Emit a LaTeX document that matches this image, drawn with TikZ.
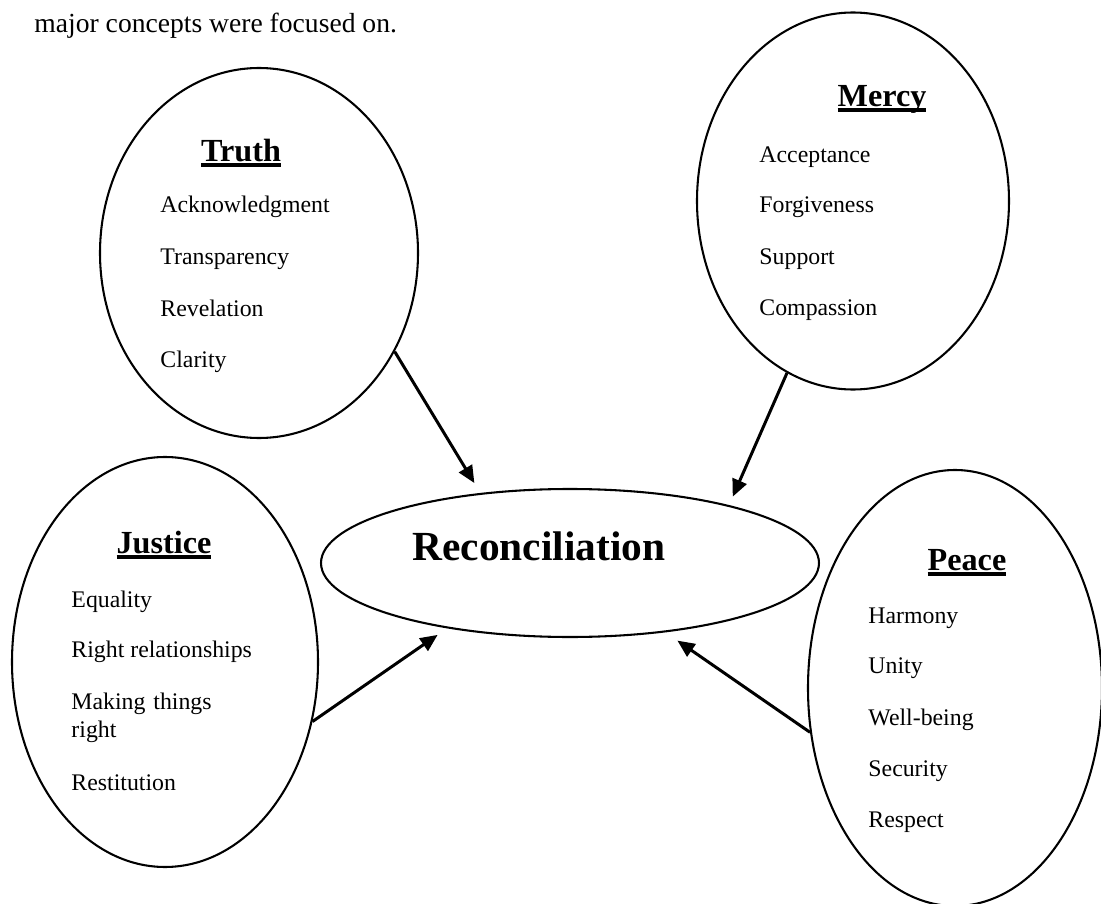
\documentclass[tikz,border=0pt]{standalone}
\usepackage{fontspec}
\setmainfont{Liberation Serif}
\usepackage{tikz}
\usetikzlibrary{arrows.meta, shapes.geometric}

\def\u{0.4348pt}
\newcommand{\hdline}[1]{\setbox0\hbox{\bfseries #1}\rlap{\rule[-2.4pt]{\wd0}{1.4pt}}\box0}

\begin{document}
\begin{tikzpicture}[x=0.4348pt, y=-0.4348pt,
				>={Triangle[length=7.5pt, width=6.5pt]},
				blob/.style={draw, ellipse, line width=0.9pt, inner sep=0pt},
				head/.style={anchor=base, inner sep=0pt, font=\fontsize{14}{16}\selectfont},
				item/.style={anchor=base west, inner sep=0pt, font=\fontsize{10.35}{12.6}\selectfont},
				link/.style={->, line width=1.3pt, shorten >=5pt}]
				\useasboundingbox (0,0) rectangle (1101,904);
				\node at (34,32) (intro) [anchor=base west, inner sep=0pt, font=\fontsize{12}{14}\selectfont] {major concepts were focused on.};
				% the four concepts and the centre
				\node at (259,253) (truth) [blob, minimum width=318*\u, minimum height=370*\u] {};
				\node at (853,201) (mercy) [blob, minimum width=312*\u, minimum height=377*\u] {};
				\node at (165,662) (justice) [blob, minimum width=306*\u, minimum height=410*\u] {};
				\node at (955,688) (peace) [blob, minimum width=294*\u, minimum height=436*\u] {};
				\node at (570,563) (recon) [blob, minimum width=498*\u, minimum height=148*\u] {};
				\node at (539,560) (recontext) [anchor=base, inner sep=0pt, font=\fontsize{18}{20}\selectfont\bfseries] {Reconciliation};
				% Truth
				\node at (241,161) (truthhd) [head] {\hdline{Truth}};
				\node at (160,213) (truth1) [item] {Acknowledgment};
				\node at (160,264) (truth2) [item] {Transparency};
				\node at (160,316) (truth3) [item] {Revelation};
				\node at (160,367) (truth4) [item] {Clarity};
				% Mercy
				\node at (882,106) (mercyhd) [head] {\hdline{Mercy}};
				\node at (759,162) (mercy1) [item] {Acceptance};
				\node at (759,213) (mercy2) [item] {Forgiveness};
				\node at (759,264) (mercy3) [item] {Support};
				\node at (759,315) (mercy4) [item] {Compassion};
				% Justice
				\node at (164,553) (justicehd) [head] {\hdline{Justice}};
				\node at (71,607) (justice1) [item] {Equality};
				\node at (71,657) (justice2) [item] {Right relationships};
				\node at (71,709) (justice3) [item, text width=80pt, align=left] {Making things\\right};
				\node at (71,790) (justice4) [item] {Restitution};
				% Peace
				\node at (967,570) (peacehd) [head] {\hdline{Peace}};
				\node at (868,623) (peace1) [item] {Harmony};
				\node at (868,673) (peace2) [item] {Unity};
				\node at (868,725) (peace3) [item] {Well-being};
				\node at (868,776) (peace4) [item] {Security};
				\node at (868,827) (peace5) [item] {Respect};
				\draw[link] (truth.-36.6) -- (recon.142.8);
				\draw[link, shorten >=4pt] (mercy.-111.6) -- (recon.20.3);
				\draw[link] (justice.-22.5) -- (recon.-152.3);
				\draw[link, shorten >=6.3pt] (peace.-163.1) -- (recon.-36.1);
			\end{tikzpicture}
\end{document}
